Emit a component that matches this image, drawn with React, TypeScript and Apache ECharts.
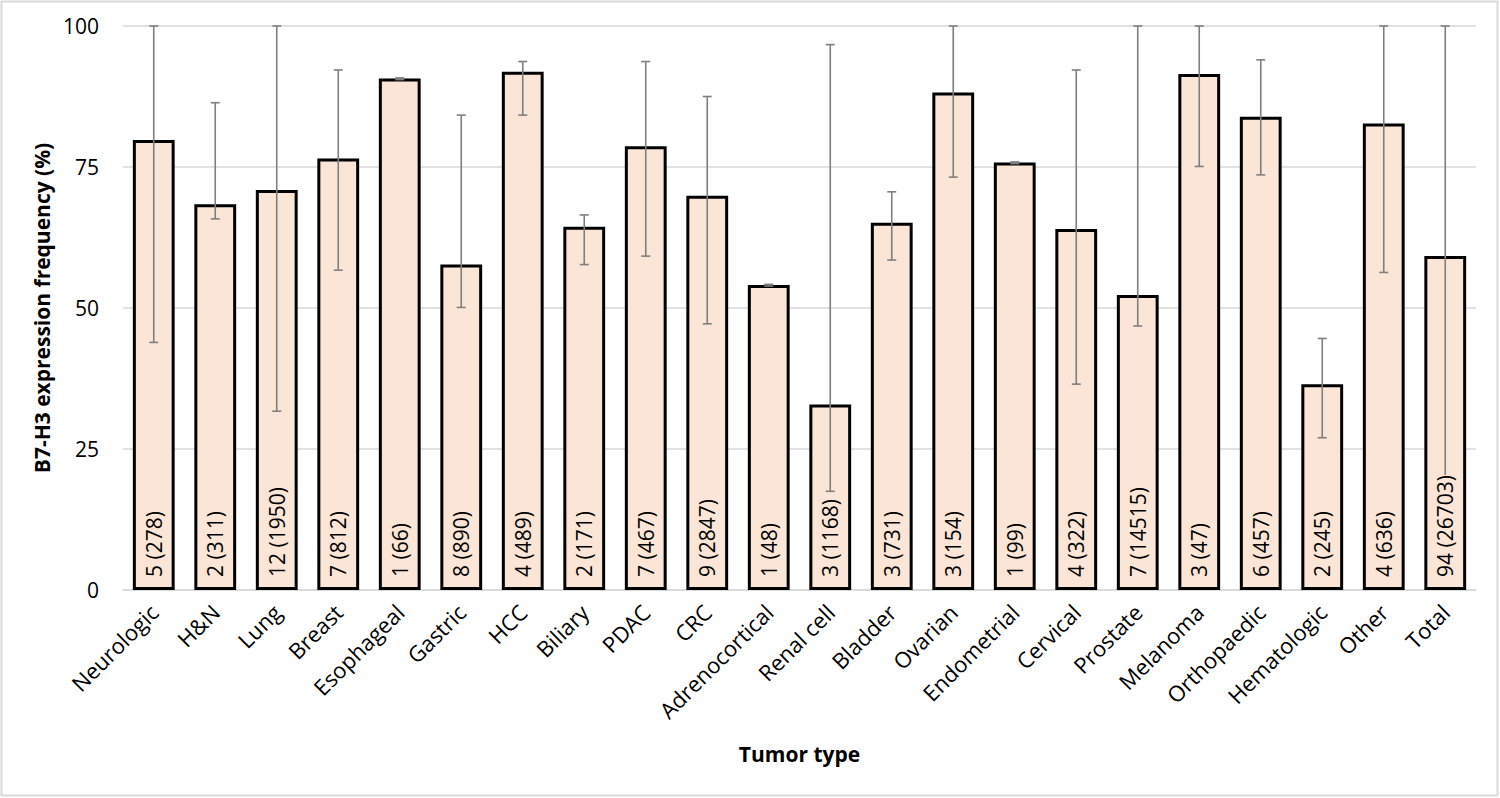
import React, { useEffect, useRef } from "react";
import * as echarts from "echarts";

const categories = ["Neurologic", "H&N", "Lung", "Breast", "Esophageal", "Gastric", "HCC", "Biliary", "PDAC", "CRC", "Adrenocortical", "Renal cell", "Bladder", "Ovarian", "Endometrial", "Cervical", "Prostate", "Melanoma", "Orthopaedic", "Hematologic", "Other", "Total"];
const frequency = [79.8, 68.4, 70.9, 76.5, 90.7, 57.7, 91.9, 64.4, 78.7, 69.9, 54.1, 32.9, 65.1, 88.2, 75.8, 64.0, 52.3, 91.5, 83.9, 36.5, 82.7, 59.2];
const errorLow = [43.9, 65.8, 31.7, 56.7, 90.5, 50.1, 84.2, 57.7, 59.2, 47.2, 53.9, 17.5, 58.5, 73.2, 75.6, 36.5, 46.8, 75.1, 73.6, 27.0, 56.3, 15];
const errorHigh = [100, 86.4, 100, 92.2, 90.8, 84.2, 93.7, 66.5, 93.7, 87.5, 54.2, 96.7, 70.6, 100, 75.9, 92.2, 100, 100, 94.0, 44.6, 100, 100];
const studyLabels = ["5 (278)", "2 (311)", "12 (1950)", "7 (812)", "1 (66)", "8 (890)", "4 (489)", "2 (171)", "7 (467)", "9 (2847)", "1 (48)", "3 (1168)", "3 (731)", "3 (154)", "1 (99)", "4 (322)", "7 (14515)", "3 (47)", "6 (457)", "2 (245)", "4 (636)", "94 (26703)"];
const yTicks = { min: 0, max: 100, interval: 25 };

const FONT = "Open Sans";
const BAR_FILL = "#FBE5D6";

export default function App() {
  const ref = useRef<HTMLDivElement>(null);
  useEffect(() => {
    if (!ref.current) return;
    const chart = echarts.init(ref.current, null, { renderer: "svg" });
    const errData = categories.map((_, i) => [i, errorLow[i], errorHigh[i]]);
    const labelData = categories.map((_, i) => [i, 0]);
    chart.setOption({
      animation: false,
      backgroundColor: "#fff",
      graphic: [
        {
          type: "rect",
          shape: { x: 1.5, y: 1.5, width: 1496, height: 794 },
          style: { fill: "none", stroke: "#d9d9d9", lineWidth: 2 },
          silent: true,
          z: 0,
        },
      ],
      grid: { left: 123, right: 24, top: 26, bottom: 208 },
      xAxis: {
        type: "category",
        data: categories,
        name: "Tumor type",
        nameLocation: "middle",
        nameGap: 153,
        nameTextStyle: { fontFamily: FONT, fontSize: 21, fontWeight: "bold", color: "#000" },
        axisLine: { lineStyle: { color: "#d9d9d9", width: 1.5 } },
        axisTick: { show: false },
        axisLabel: { interval: 0, rotate: 45, margin: 18, fontFamily: FONT, fontSize: 22, color: "#000" },
      },
      yAxis: {
        type: "value",
        min: yTicks.min,
        max: yTicks.max,
        interval: yTicks.interval,
        name: "B7-H3 expression frequency (%)",
        nameLocation: "middle",
        nameGap: 70,
        nameTextStyle: { fontFamily: FONT, fontSize: 21, fontWeight: "bold", color: "#000" },
        axisLine: { show: false },
        axisTick: { show: false },
        axisLabel: { margin: 24, fontFamily: FONT, fontSize: 21, color: "#000" },
        splitLine: { lineStyle: { color: "#d9d9d9", width: 1.5 } },
      },
      series: [
        {
          type: "bar",
          data: frequency,
          barCategoryGap: "32%",
          itemStyle: { color: BAR_FILL, borderColor: "#000", borderWidth: 3 },
          z: 2,
        },
        {
          type: "custom",
          data: errData,
          z: 3,
          encode: { x: 0, y: [1, 2] },
          renderItem: (params: any, api: any) => {
            const i = api.value(0);
            const lo = api.coord([i, api.value(1)]);
            const hi = api.coord([i, api.value(2)]);
            const x = lo[0];
            const cap = 4.5;
            const style = { stroke: "#7f7f7f", lineWidth: 1.6 };
            return {
              type: "group",
              children: [
                { type: "line", shape: { x1: x, y1: hi[1], x2: x, y2: lo[1] }, style },
                { type: "line", shape: { x1: x - cap, y1: hi[1], x2: x + cap, y2: hi[1] }, style },
                { type: "line", shape: { x1: x - cap, y1: lo[1], x2: x + cap, y2: lo[1] }, style },
              ],
            };
          },
        },
        {
          type: "custom",
          data: labelData,
          z: 4,
          encode: { x: 0, y: 1 },
          renderItem: (params: any, api: any) => {
            const i = api.value(0);
            const p = api.coord([i, 0]);
            return {
              type: "text",
              x: p[0],
              y: p[1] - 13,
              rotation: Math.PI / 2,
              style: {
                text: studyLabels[params.dataIndex],
                fontFamily: FONT,
                fontSize: 21,
                fill: "#000",
                align: "left",
                verticalAlign: "middle",
                backgroundColor: BAR_FILL,
                padding: [0, 0, 0, 0],
              },
            };
          },
        },
      ],
    });
    return () => chart.dispose();
  }, []);
  return (
    <div
      ref={ref}
      style={{ position: "absolute", left: 0, top: 0, width: 1500, height: 798 }}
    />
  );
}
